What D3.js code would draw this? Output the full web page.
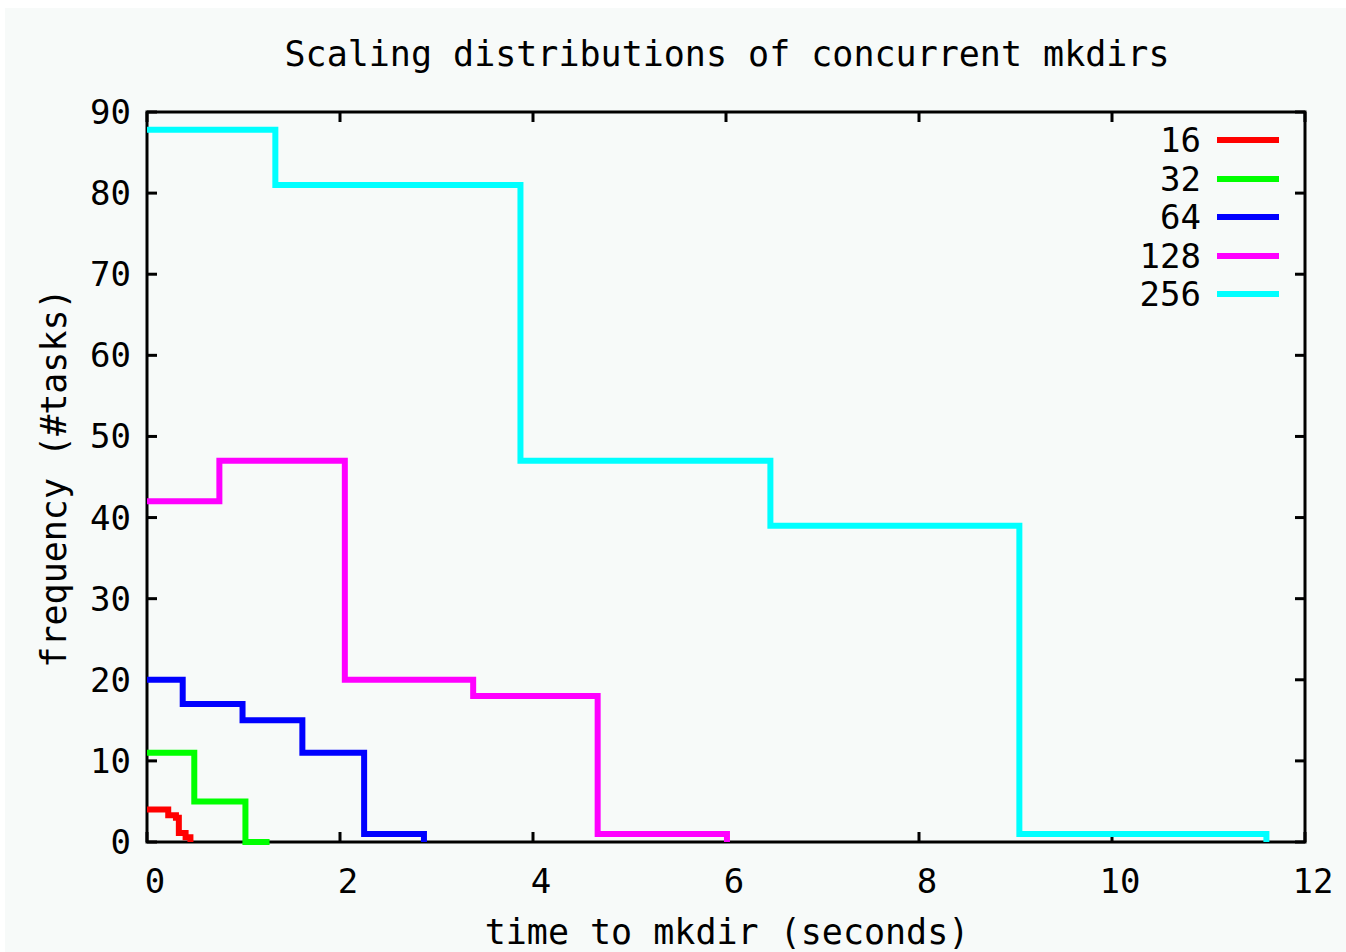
<!DOCTYPE html>
<html>
<head>
<meta charset="utf-8">
<script src="https://cdn.jsdelivr.net/npm/d3@7"></script>
<style>
  html, body { margin: 0; padding: 0; background: #ffffff; }
  svg { display: block; }
  text { font-family: "DejaVu Sans Mono", monospace; fill: #000; }
</style>
</head>
<body>
<svg id="chart" width="1346" height="952"></svg>
<script>
// Cumulative step curves: [seconds, #tasks still waiting]
const series16  = [[0, 4], [0.22, 3.3], [0.30, 3], [0.33, 1.1], [0.40, 0.6], [0.45, 0]];
const series32  = [[0, 11], [0.49, 5], [1.02, 0], [1.27, 0]];
const series64  = [[0, 20], [0.37, 17], [0.99, 15], [1.61, 11], [2.25, 1], [2.87, 0]];
const series128 = [[0, 42], [0.75, 47], [2.05, 20], [3.38, 18], [4.67, 1], [6.01, 0]];
const series256 = [[0, 87.8], [1.33, 81], [3.87, 47], [6.46, 39], [9.04, 1], [11.6, 0]];

const seriesNames  = ["16", "32", "64", "128", "256"];
const seriesColors = ["#ff0000", "#00ff00", "#0000ff", "#ff00ff", "#00ffff"];
const seriesData   = [series16, series32, series64, series128, series256];

const xTicks = [0, 2, 4, 6, 8, 10, 12];
const yTicks = [0, 10, 20, 30, 40, 50, 60, 70, 80, 90];

const titleText  = "Scaling distributions of concurrent mkdirs";
const xLabelText = "time to mkdir (seconds)";
const yLabelText = "frequency (#tasks)";

const svg = d3.select("#chart");

// canvas background
svg.append("rect").attr("x", 5).attr("y", 8).attr("width", 1341).attr("height", 944)
  .attr("fill", "#f7faf9");

const plotLeft = 147, plotRight = 1305, plotTop = 112, plotBottom = 842;
const x = d3.scaleLinear().domain([0, 12]).range([plotLeft, plotRight]);
const y = d3.scaleLinear().domain([0, 90]).range([plotBottom, plotTop]);

// ticks on all four sides, pointing inward
const tickLen = 10;
const axisG = svg.append("g").attr("stroke", "#000").attr("stroke-width", 3);
xTicks.forEach(t => {
  axisG.append("line").attr("x1", x(t)).attr("x2", x(t)).attr("y1", plotBottom).attr("y2", plotBottom - tickLen);
  axisG.append("line").attr("x1", x(t)).attr("x2", x(t)).attr("y1", plotTop).attr("y2", plotTop + tickLen);
});
yTicks.forEach(t => {
  axisG.append("line").attr("x1", plotLeft).attr("x2", plotLeft + tickLen).attr("y1", y(t)).attr("y2", y(t));
  axisG.append("line").attr("x1", plotRight).attr("x2", plotRight - tickLen).attr("y1", y(t)).attr("y2", y(t));
});

// frame
svg.append("rect").attr("x", plotLeft).attr("y", plotTop)
  .attr("width", plotRight - plotLeft).attr("height", plotBottom - plotTop)
  .attr("fill", "none").attr("stroke", "#000").attr("stroke-width", 3);

// tick labels
svg.append("g").selectAll("text").data(xTicks).join("text")
  .attr("x", d => x(d) + 8).attr("y", 893)
  .attr("text-anchor", "middle").attr("font-size", 34)
  .text(d => d);
svg.append("g").selectAll("text").data(yTicks).join("text")
  .attr("x", 131).attr("y", d => y(d) + 12)
  .attr("text-anchor", "end").attr("font-size", 34)
  .text(d => d);

// titles
svg.append("text").attr("x", 727).attr("y", 66).attr("text-anchor", "middle")
  .attr("font-size", 35).text(titleText);
svg.append("text").attr("x", 727).attr("y", 944).attr("text-anchor", "middle")
  .attr("font-size", 35).text(xLabelText);
svg.append("text").attr("transform", "translate(66,478) rotate(-90)")
  .attr("text-anchor", "middle").attr("font-size", 35).text(yLabelText);

// step curves
const line = d3.line().x(d => x(d[0])).y(d => y(d[1])).curve(d3.curveStepAfter);
seriesData.forEach((data, i) => {
  svg.append("path").datum(data)
    .attr("d", line)
    .attr("fill", "none")
    .attr("stroke", seriesColors[i])
    .attr("stroke-width", 6)
    .attr("stroke-linejoin", "miter");
});

// legend
const legendY = [140, 179, 217, 256, 294];
const legend = svg.append("g");
seriesNames.forEach((name, i) => {
  legend.append("text").attr("x", 1201).attr("y", legendY[i] + 12)
    .attr("text-anchor", "end").attr("font-size", 34).text(name);
  legend.append("line").attr("x1", 1217).attr("x2", 1279)
    .attr("y1", legendY[i]).attr("y2", legendY[i])
    .attr("stroke", seriesColors[i]).attr("stroke-width", 6);
});
</script>
</body>
</html>
